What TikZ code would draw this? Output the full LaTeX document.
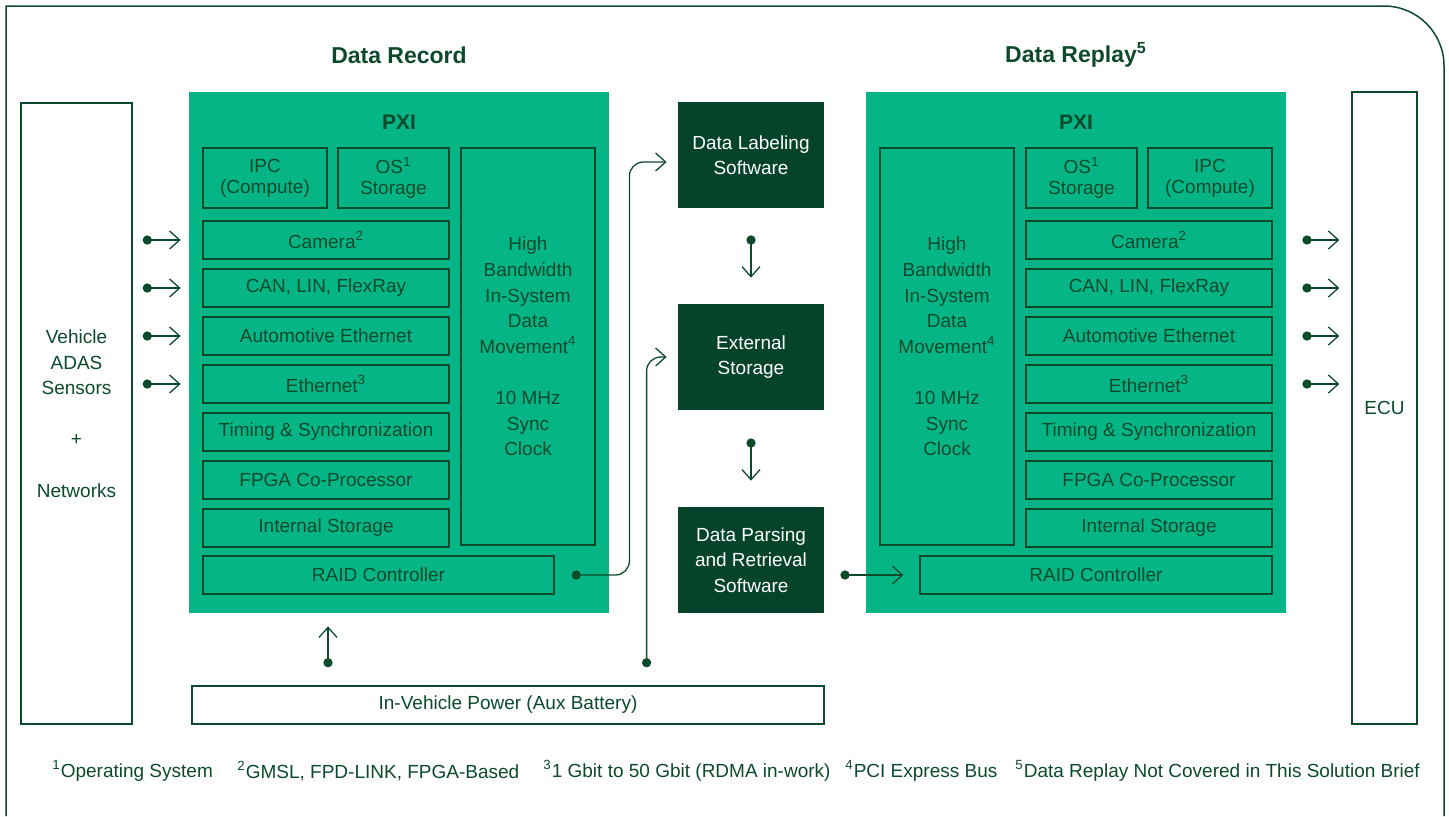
\documentclass[tikz,border=0pt]{standalone}
\usepackage{fontspec}
\setmainfont{Liberation Sans}
\usepackage{xcolor}
\usetikzlibrary{positioning,calc,arrows.meta}
\definecolor{pxigreen}{HTML}{05B586}
\definecolor{deepgreen}{HTML}{05432A}
\definecolor{inkgreen}{HTML}{0C4A2C}

\begin{document}
\begin{tikzpicture}[
    x=0.5pt, y=-0.5pt,
    font=\fontsize{9.5}{12.8}\selectfont,
    every node/.style={text=inkgreen},
    pxibox/.style={rectangle, fill=pxigreen, minimum width=210pt, minimum height=260.5pt, inner sep=0},
    rowbox/.style={rectangle, draw=inkgreen, line width=0.6pt, minimum width=123pt, minimum height=19pt, inner sep=0},
    topbox/.style={rectangle, draw=inkgreen, line width=0.6pt, minimum height=30pt, inner sep=0, align=center, font=\fontsize{9.5}{10.5}\selectfont},
    bandbox/.style={rectangle, draw=inkgreen, line width=0.6pt, minimum width=67pt, minimum height=198.5pt, inner sep=0, align=center},
    darkbox/.style={rectangle, fill=deepgreen, text=white, minimum width=73pt, minimum height=53pt, inner sep=0, align=center},
    whitebox/.style={rectangle, draw=inkgreen, line width=0.7pt, fill=white, inner sep=0, align=center},
    heading/.style={font=\fontsize{11.5}{13}\selectfont\bfseries},
    pxilabel/.style={font=\fontsize{10.5}{12}\selectfont\bfseries},
    note/.style={anchor=west, inner sep=0},
    link/.style={draw=inkgreen, line width=0.65pt, {Circle[length=4.6pt]}-{Straight Barb[length=5pt,width=9pt]}}
]
    \useasboundingbox (0,0) rectangle (1449,816);

    % Frame
    \draw[inkgreen, line width=0.75pt] (6,816) -- (6,6) -- (1384,6)
        arc[start angle=90, end angle=0, radius=30pt] -- (1444,816);

    % Headings
    \node[heading] (recTitle) at (399,55) {Data Record};
    \node[heading] (repTitle) at (1076,55) {Data Replay\textsuperscript{5}};

    % Sensors and ECU
    \node[whitebox, minimum width=55.5pt, minimum height=310.5pt] (sensors) at (76.5,413.5)
        {Vehicle\\ADAS\\Sensors\\[12.8pt]+\\[12.8pt]Networks};
    \node[whitebox, minimum width=32.5pt, minimum height=316pt] (ecu) at (1384.5,408) {ECU};

    % Record PXI
    \node[pxibox] (pxiL) at (399,352.5) {};
    \node[pxilabel] (pxiLtitle) at (399,122) {PXI};
    \node[topbox, minimum width=62pt] (ipcL) at (265,178) {IPC\\(Compute)};
    \node[topbox, minimum width=55.5pt] (osL) at (393.5,178) {OS\textsuperscript{1}\\Storage};
    \node[rowbox] (camL) at (326,240) {Camera\textsuperscript{2}};
    \node[rowbox, below=4.4pt of camL] (canL) {CAN,\ LIN, FlexRay};
    \node[rowbox, below=4.4pt of canL] (aeL) {Automotive Ethernet};
    \node[rowbox, below=4.4pt of aeL] (ethL) {Ethernet\textsuperscript{3}};
    \node[rowbox, below=4.4pt of ethL] (timL) {Timing \& Synchronization};
    \node[rowbox, below=4.4pt of timL] (fpgaL) {FPGA Co-Processor};
    \node[rowbox, below=4.4pt of fpgaL] (intL) {Internal Storage};
    \node[rowbox, minimum width=175.5pt] (raidL) at (378.5,575) {RAID Controller};
    \node[bandbox] (bandL) at (528,346.5)
        {High\\Bandwidth\\In-System\\Data\\Movement\textsuperscript{4}\\[12.8pt]10 MHz\\Sync\\Clock};

    % Middle software and storage
    \node[darkbox] (lab) at (751,155) {Data Labeling\\Software};
    \node[darkbox] (ext) at (751,357) {External\\Storage};
    \node[darkbox] (parse) at (751,560) {Data Parsing\\and Retrieval\\Software};
    \node[whitebox, minimum width=316pt, minimum height=19pt] (power) at (508,705)
        {In-Vehicle Power (Aux Battery)};

    % Replay PXI
    \node[pxibox] (pxiR) at (1076,352.5) {};
    \node[pxilabel] (pxiRtitle) at (1076,122) {PXI};
    \node[topbox, minimum width=55.5pt] (osR) at (1081.5,178) {OS\textsuperscript{1}\\Storage};
    \node[topbox, minimum width=62pt] (ipcR) at (1210,178) {IPC\\(Compute)};
    \node[rowbox] (camR) at (1149,240) {Camera\textsuperscript{2}};
    \node[rowbox, below=4.4pt of camR] (canR) {CAN,\ LIN, FlexRay};
    \node[rowbox, below=4.4pt of canR] (aeR) {Automotive Ethernet};
    \node[rowbox, below=4.4pt of aeR] (ethR) {Ethernet\textsuperscript{3}};
    \node[rowbox, below=4.4pt of ethR] (timR) {Timing \& Synchronization};
    \node[rowbox, below=4.4pt of timR] (fpgaR) {FPGA Co-Processor};
    \node[rowbox, below=4.4pt of fpgaR] (intR) {Internal Storage};
    \node[rowbox, minimum width=176pt] (raidR) at (1096,575) {RAID Controller};
    \node[bandbox] (bandR) at (947,346.5)
        {High\\Bandwidth\\In-System\\Data\\Movement\textsuperscript{4}\\[12.8pt]10 MHz\\Sync\\Clock};

    % Sensor inputs
    \draw[link] ($(sensors.east |- camL.west)+(5pt,0)$) -- ($(pxiL.west |- camL.west)+(-4pt,0)$);
    \draw[link] ($(sensors.east |- canL.west)+(5pt,0)$) -- ($(pxiL.west |- canL.west)+(-4pt,0)$);
    \draw[link] ($(sensors.east |- aeL.west)+(5pt,0)$) -- ($(pxiL.west |- aeL.west)+(-4pt,0)$);
    \draw[link] ($(sensors.east |- ethL.west)+(5pt,0)$) -- ($(pxiL.west |- ethL.west)+(-4pt,0)$);

    % ECU outputs
    \draw[link] ($(pxiR.east |- camR.east)+(8pt,0)$) -- ($(ecu.west |- camR.east)+(-6pt,0)$);
    \draw[link] ($(pxiR.east |- canR.east)+(8pt,0)$) -- ($(ecu.west |- canR.east)+(-6pt,0)$);
    \draw[link] ($(pxiR.east |- aeR.east)+(8pt,0)$) -- ($(ecu.west |- aeR.east)+(-6pt,0)$);
    \draw[link] ($(pxiR.east |- ethR.east)+(8pt,0)$) -- ($(ecu.west |- ethR.east)+(-6pt,0)$);

    % RAID to labeling
    \draw[link, rounded corners=7pt] ($(raidL.east)+(8.5pt,0)$)
        -| ($(pxiL.east |- lab.west)+(10pt,-3.5pt)$) -- ($(lab.west)+(-5.5pt,-3.5pt)$);

    % Storage chain
    \draw[link] ($(lab.south)+(0,-13.5pt)$) -- ($(ext.north)+(0,13pt)$);
    \draw[link] ($(ext.south)+(0,-14pt)$) -- ($(parse.north)+(0,13pt)$);
    \draw[link] ($(parse.east |- raidR.west)+(8pt,0)$) -- ($(raidR.west)+(-8pt,0)$);

    % Power
    \draw[link] ($(power.north)+(-90pt,9pt)$) -- ($(pxiL.south)+(-35.5pt,-6.5pt)$);
    \draw[link, rounded corners=7pt] ($(ext.west |- power.north)+(-15.5pt,9pt)$)
        |- ($(ext.west)+(-5.5pt,0)$);

    % Footnotes
    \node[note] (fn1) at (52,771) {\textsuperscript{1}Operating System};
    \node[note] (fn2) at (237,771) {\textsuperscript{2}GMSL, FPD-LINK, FPGA-Based};
    \node[note] (fn3) at (543,771) {\textsuperscript{3}1 Gbit to 50 Gbit (RDMA in-work)};
    \node[note] (fn4) at (845,771) {\textsuperscript{4}PCI Express Bus};
    \node[note] (fn5) at (1015,771) {\textsuperscript{5}Data Replay Not Covered in This Solution Brief};
\end{tikzpicture}
\end{document}
